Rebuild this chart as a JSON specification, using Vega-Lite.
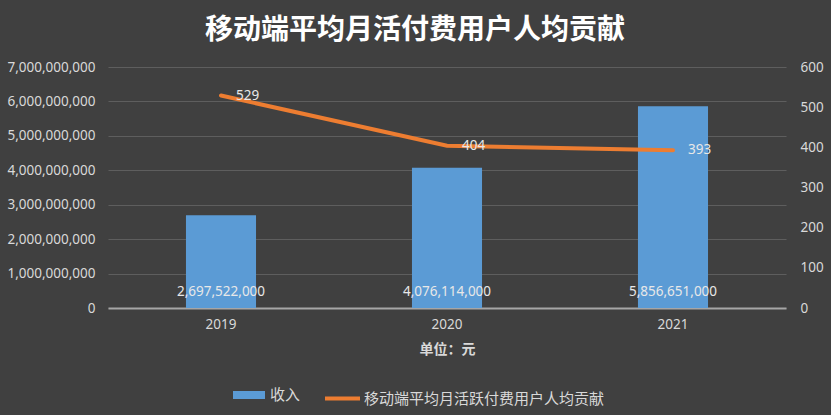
{
  "$schema": "https://vega.github.io/schema/vega-lite/v6.json",
  "width": 678,
  "height": 241,
  "autosize": {"type": "none"},
  "padding": {"left": 108, "top": 67, "right": 45, "bottom": 107},
  "background": "#404040",
  "title": {
    "text": "移动端平均月活付费用户人均贡献",
    "font": "Noto Sans CJK SC",
    "fontSize": 28,
    "fontWeight": "bold",
    "color": "#ffffff",
    "anchor": "middle",
    "dx": -32,
    "offset": 15
  },
  "config": {
    "view": {"stroke": null},
    "axis": {
      "labelColor": "#d9d9d9",
      "labelFont": "Noto Sans",
      "labelFontSize": 13.5,
      "ticks": false,
      "domain": false,
      "gridColor": "#5e5e5e",
      "gridWidth": 1
    },
    "legend": {
      "labelColor": "#d9d9d9",
      "labelFont": "Noto Sans CJK SC",
      "labelFontSize": 15,
      "labelLimit": 400,
      "title": null
    }
  },
  "data": {
    "values": [
      {"year": "2019", "revenue": 2697522000, "arpu": 529},
      {"year": "2020", "revenue": 4076114000, "arpu": 404},
      {"year": "2021", "revenue": 5856651000, "arpu": 393}
    ]
  },
  "encoding": {
    "x": {
      "field": "year",
      "type": "ordinal",
      "scale": {"paddingInner": 0.69, "paddingOuter": 0.345},
      "axis": {
        "title": "单位：元",
        "titleFont": "Noto Sans CJK SC",
        "titleFontSize": 14,
        "titleFontWeight": "bold",
        "titleColor": "#d9d9d9",
        "titlePadding": 12,
        "labelAngle": 0,
        "labelPadding": 9,
        "domain": true,
        "domainColor": "#a6a6a6",
        "domainWidth": 2,
        "grid": false
      }
    }
  },
  "layer": [
    {
      "encoding": {
        "y": {
          "field": "revenue",
          "type": "quantitative",
          "scale": {"domain": [0, 7000000000]},
          "axis": {
            "title": null,
            "labelExpr": "format(datum.value, ',')",
            "values": [0, 1000000000, 2000000000, 3000000000, 4000000000, 5000000000, 6000000000, 7000000000],
            "labelPadding": 13,
            "grid": true
          }
        }
      },
      "layer": [
        {
          "mark": {"type": "bar"},
          "encoding": {
            "fill": {
              "datum": "收入",
              "type": "nominal",
              "scale": {"range": ["#5B9BD5"]},
              "legend": {
                "orient": "none",
                "legendX": 125,
                "legendY": 312,
                "symbolType": "M-1,-0.25H1V0.25H-1Z",
                "symbolSize": 1024,
                "symbolStrokeWidth": 0,
                "labelOffset": 5
              }
            }
          }
        },
        {
          "mark": {"type": "text", "color": "#e8e8e8", "font": "Noto Sans", "fontSize": 13.5, "baseline": "middle", "dy": -16},
          "encoding": {
            "y": {"datum": 0},
            "text": {"field": "revenue", "type": "quantitative", "format": ","}
          }
        }
      ]
    },
    {
      "encoding": {
        "y": {
          "field": "arpu",
          "type": "quantitative",
          "scale": {"domain": [0, 600]},
          "axis": {
            "orient": "right",
            "title": null,
            "values": [0, 100, 200, 300, 400, 500, 600],
            "labelPadding": 14,
            "grid": false
          }
        }
      },
      "layer": [
        {
          "mark": {"type": "line", "strokeWidth": 4, "strokeCap": "round"},
          "encoding": {
            "stroke": {
              "datum": "移动端平均月活跃付费用户人均贡献",
              "type": "nominal",
              "scale": {"range": ["#ED7D31"]},
              "legend": {
                "orient": "none",
                "legendX": 215,
                "legendY": 312,
                "symbolType": "stroke",
                "symbolSize": 1225,
                "symbolStrokeWidth": 4,
                "labelOffset": 2
              }
            }
          }
        },
        {
          "mark": {"type": "text", "color": "#e8e8e8", "font": "Noto Sans", "fontSize": 13.5, "align": "left", "baseline": "middle", "dx": 15, "dy": 0},
          "encoding": {
            "text": {"field": "arpu", "type": "quantitative"}
          }
        }
      ]
    }
  ],
  "resolve": {"scale": {"y": "independent"}}
}
